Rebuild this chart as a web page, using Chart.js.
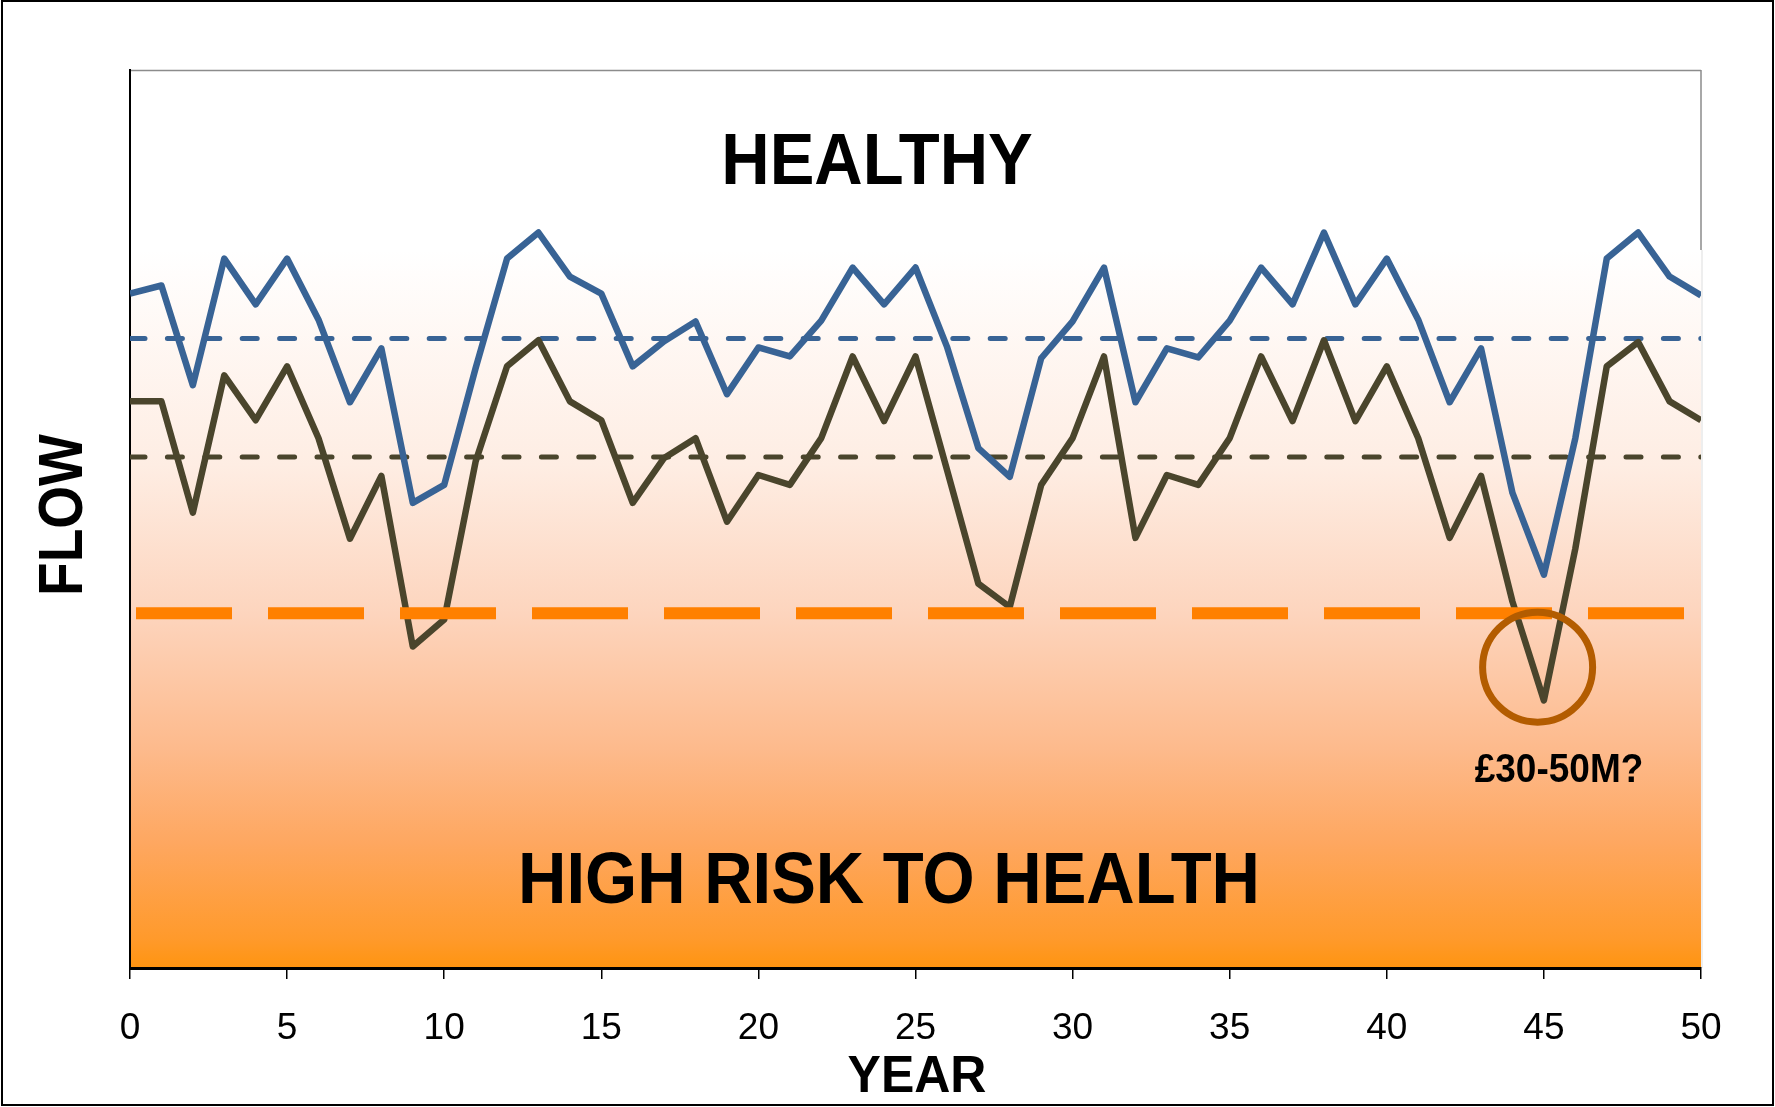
<!DOCTYPE html>
<html>
<head>
<meta charset="utf-8">
<script src="https://cdn.jsdelivr.net/npm/chart.js@4.4.1/dist/chart.umd.min.js"></script>
<style>
html,body{margin:0;padding:0;background:#fff;}
#wrap{position:relative;width:1775px;height:1107px;}
</style>
</head>
<body>
<div id="wrap"><canvas id="c"></canvas></div>
<script>
// ---- data ----
const years = [0,1,2,3,4,5,6,7,8,9,10,11,12,13,14,15,16,17,18,19,20,21,22,23,24,25,26,27,28,29,30,31,32,33,34,35,36,37,38,39,40,41,42,43,44,45,46,47,48,49,50];
const flowUpper = [75.1,76.0,64.9,79.0,73.9,79.0,72.2,63.0,69.0,51.8,53.8,66.8,79.0,81.9,77.0,75.1,67.0,69.8,72.0,63.9,69.1,68.1,72.1,78.0,73.9,78.0,69.2,57.9,54.7,67.9,72.0,78.0,63.0,69.0,68.0,72.1,78.0,73.9,81.9,73.9,79.0,72.2,63.0,69.0,52.9,43.8,59.0,79.0,81.9,77.0,74.9];
const flowLower = [63.1,63.1,50.7,66.0,61.0,67.0,59.0,47.8,54.8,35.8,38.8,56.4,67.0,69.9,63.1,61.0,51.8,56.8,59.0,49.7,54.9,53.8,59.0,68.1,60.9,68.1,55.5,42.8,40.2,53.8,59.0,68.1,47.9,54.9,53.8,59.0,68.1,60.9,69.9,60.9,67.0,59.0,47.9,54.8,40.8,29.8,46.7,67.0,69.7,63.1,61.0];
const meanUpper = 70.1;
const meanLower = 56.9;
const riskThreshold = 39.5;
const xTicks = [0,5,10,15,20,25,30,35,40,45,50];
const circleAt = {x: 44.8, y: 33.5};
const labels = {top:'HEALTHY', bottom:'HIGH RISK TO HEALTH', cost:'£30-50M?', xTitle:'YEAR', yTitle:'FLOW'};

const FONT = '"Liberation Sans", Arial, Helvetica, sans-serif';
const pts = arr => arr.map((v,i)=>({x:years[i], y:v}));
const flat = v => [{x:years[0], y:v},{x:years[years.length-1], y:v}];

function stretchText(ctx, txt, x, y, size, sy, rot){
  ctx.save();
  ctx.translate(x,y);
  if(rot) ctx.rotate(rot);
  ctx.scale(1, sy);
  ctx.font = 'bold ' + size + 'px ' + FONT;
  ctx.textAlign = 'center';
  ctx.textBaseline = 'alphabetic';
  ctx.fillStyle = '#000';
  ctx.fillText(txt, 0, size*0.716/2);
  ctx.restore();
}

const bgPlugin = {
  id:'bg',
  beforeDraw(chart){
    const {ctx, chartArea:a, width, height} = chart;
    ctx.save();
    ctx.fillStyle = '#fff';
    ctx.fillRect(0,0,width,height);
    const gTop = 250;
    const g = ctx.createLinearGradient(0,gTop,0,a.bottom);
    g.addColorStop(0,'#FFFFFF');
    g.addColorStop(0.30,'#FEEDE3');
    g.addColorStop(0.504,'#FDD5BE');
    g.addColorStop(0.695,'#FDBA8C');
    g.addColorStop(0.826,'#FEA760');
    g.addColorStop(0.958,'#FF9A2C');
    g.addColorStop(1,'#FF9410');
    ctx.fillStyle = g;
    ctx.fillRect(a.left, gTop, a.right-a.left, a.bottom-gTop);
    // plot frame top/right
    ctx.strokeStyle = '#8c8c8c';
    ctx.lineWidth = 1.5;
    ctx.beginPath();
    ctx.moveTo(a.left, a.top+0.5); ctx.lineTo(a.right, a.top+0.5);
    ctx.moveTo(a.right, a.top); ctx.lineTo(a.right, gTop);
    ctx.stroke();
    ctx.strokeStyle = '#dddddd';
    ctx.lineWidth = 1;
    ctx.beginPath();
    ctx.moveTo(a.right+1, gTop); ctx.lineTo(a.right+1, a.bottom);
    ctx.stroke();
    // outer border
    ctx.strokeStyle = '#000';
    ctx.lineWidth = 2;
    ctx.strokeRect(2, 1, width-4, height-3);
    ctx.restore();
  },
  afterDraw(chart){
    const {ctx, scales} = chart;
    const cx = scales.x.getPixelForValue(circleAt.x);
    const cy = scales.y.getPixelForValue(circleAt.y);
    ctx.save();
    ctx.strokeStyle = '#B35C00';
    ctx.lineWidth = 7;
    ctx.beginPath();
    ctx.arc(cx, cy, 55, 0, Math.PI*2);
    ctx.stroke();
    ctx.restore();
    stretchText(ctx, labels.top, 877, 158, 67, 1.09);
    stretchText(ctx, labels.bottom, 889, 877, 67, 1.09);
    stretchText(ctx, labels.cost, 1559, 768, 37, 1.08);
    stretchText(ctx, labels.xTitle, 917, 1073, 50, 1.04);
    stretchText(ctx, labels.yTitle, 60, 515, 55, 1.14, -Math.PI/2);
  }
};

const lineBase = {pointRadius:0, tension:0, fill:false, borderJoinStyle:'round'};

new Chart(document.getElementById('c'), {
  type:'line',
  data:{
    datasets:[
      Object.assign({}, lineBase, {label:'threshold', data:flat(riskThreshold), borderColor:'#FF8000', borderWidth:12, borderDash:[96,36], borderDashOffset:126, borderCapStyle:'butt'}),
      Object.assign({}, lineBase, {label:'upper', data:pts(flowUpper), borderColor:'#386395', borderWidth:6.5, borderCapStyle:'butt'}),
      Object.assign({}, lineBase, {label:'lower', data:pts(flowLower), borderColor:'#4A452C', borderWidth:6.5, borderCapStyle:'butt'}),
      Object.assign({}, lineBase, {label:'meanUpper', data:flat(meanUpper), borderColor:'#386395', borderWidth:5, borderDash:[15,22.4], borderCapStyle:'round'}),
      Object.assign({}, lineBase, {label:'meanLower', data:flat(meanLower), borderColor:'#4A452C', borderWidth:5, borderDash:[15,22.4], borderCapStyle:'round'})
    ]
  },
  options:{
    responsive:true,
    maintainAspectRatio:false,
    animation:false,
    events:[],
    layout:{padding:{top:70, right:74, left:0, bottom:0}},
    plugins:{legend:{display:false}, tooltip:{enabled:false}, title:{display:false}},
    scales:{
      x:{
        type:'linear', min:0, max:50,
        afterBuildTicks(scale){ scale.ticks = xTicks.map(v=>({value:v})); },
        afterFit(scale){ scale.height = 139; },
        ticks:{font:{family:FONT, size:37}, color:'#000', padding:28, maxRotation:0, autoSkip:false},
        grid:{display:true, drawOnChartArea:false, drawTicks:true, tickLength:11, color:'#000', lineWidth:1.5},
        border:{display:true, color:'#000', width:3}
      },
      y:{
        min:0, max:100,
        afterFit(scale){ scale.width = 130; },
        ticks:{display:false},
        grid:{display:false},
        border:{display:true, color:'#000', width:2}
      }
    }
  },
  plugins:[bgPlugin]
});
</script>
</body>
</html>
